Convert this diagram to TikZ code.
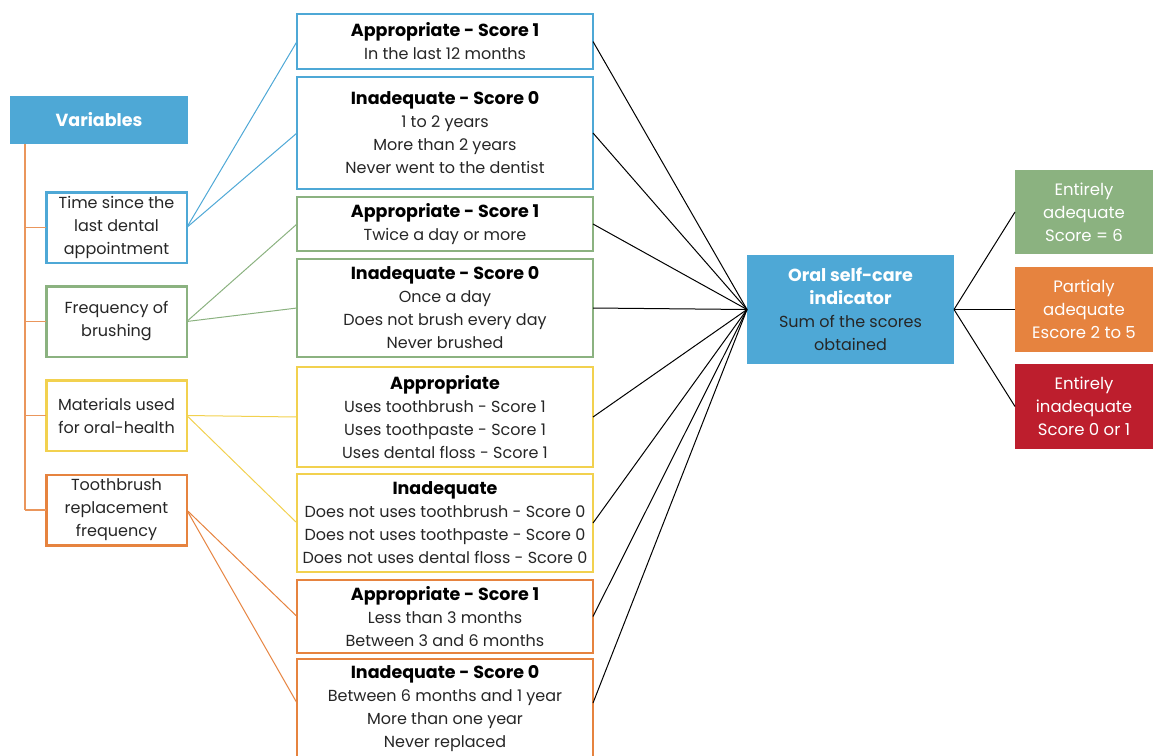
\documentclass[tikz,border=0pt]{standalone}
\usepackage{fontspec}
\setmainfont{Poppins}
\definecolor{cblue}{HTML}{4EA8D6}
\definecolor{cgreen}{HTML}{8BB280}
\definecolor{cyellow}{HTML}{F2D14F}
\definecolor{corange}{HTML}{E6833F}
\definecolor{cred}{HTML}{BD1E2D}
\definecolor{ctext}{HTML}{262626}
\newcommand\bhead[1]{{\fontsize{17.5}{23}\selectfont\bfseries #1}}
\begin{document}
\begin{tikzpicture}[x=1pt,y=-1pt,
  txt/.style={font=\fontsize{16}{23}\selectfont, text=ctext, align=center, inner sep=0pt, outer sep=0pt},
  midbox/.style={txt, draw=#1, line width=2.5pt, fill=white, minimum width=296pt},
  varbox/.style={txt, draw=#1, line width=2.5pt, fill=white, minimum width=140.5pt, minimum height=70.5pt},
  fillbox/.style={txt, fill=#1, text=white},
  lconn/.style={draw=#1, line width=1pt},
  rconn/.style={draw=black, line width=1pt}
]
\useasboundingbox (0,0) rectangle (1153,755);

% Variables column
\node[fillbox=cblue, minimum width=178pt, minimum height=48pt] (vars) at (99,120) {\bhead{Variables}};
\node[varbox=cblue] (time) at (116.5,227.5) {Time since the\\last dental\\appointment};
\node[varbox=cgreen] (freq) at (116.5,321.5) {Frequency of\\brushing};
\node[varbox=cyellow] (mat) at (116.5,415.5) {Materials used\\for oral-health};
\node[varbox=corange] (tb) at (116.5,510) {Toothbrush\\replacement\\frequency};

\coordinate (treetop) at (25,144);
\coordinate (treebot) at (25,510);
\draw[corange!85, line width=1.2pt] (treetop) -- (treebot);
\foreach \n in {time,freq,mat,tb} \draw[corange!85, line width=1.2pt] (treetop |- \n.west) -- (\n.west);

% Middle column
\node[midbox=cblue, minimum height=55pt] (b1) at (445,41.5) {\textcolor{black}{\bhead{Appropriate - Score 1}}\\In the last 12 months};
\node[midbox=cblue, minimum height=112pt] (b2) at (445,133) {\textcolor{black}{\bhead{Inadequate - Score 0}}\\1 to 2 years\\More than 2 years\\Never went to the dentist};
\node[midbox=cgreen, minimum height=54pt] (b3) at (445,224) {\textcolor{black}{\bhead{Appropriate - Score 1}}\\Twice a day or more};
\node[midbox=cgreen, minimum height=98pt] (b4) at (445,308) {\textcolor{black}{\bhead{Inadequate - Score 0}}\\Once a day\\Does not brush every day\\Never brushed};
\node[midbox=cyellow, minimum height=100pt] (b5) at (445,417) {\textcolor{black}{\bhead{Appropriate}}\\Uses toothbrush - Score 1\\Uses toothpaste - Score 1\\Uses dental floss - Score 1};
\node[midbox=cyellow, minimum height=98pt] (b6) at (445,523) {\textcolor{black}{\bhead{Inadequate}}\\Does not uses toothbrush - Score 0\\Does not uses toothpaste - Score 0\\Does not uses dental floss - Score 0};
\node[midbox=corange, minimum height=73pt] (b7) at (445,616.5) {\textcolor{black}{\bhead{Appropriate - Score 1}}\\Less than 3 months\\Between 3 and 6 months};
\node[midbox=corange, minimum height=110pt, anchor=north] (b8) at (445,659) {};
\node[txt] (b8t) at (445,709) {\textcolor{black}{\bhead{Inadequate - Score 0}}\\Between 6 months and 1 year\\More than one year\\Never replaced};
\coordinate (b8l) at ([yshift=-44pt]b8.north west);
\coordinate (b8r) at ([yshift=-44pt]b8.north east);

% left connectors
\draw[lconn=cblue] (time.east) -- (b1.west);
\draw[lconn=cblue] (time.east) -- (b2.west);
\draw[lconn=cgreen] (freq.east) -- (b3.west);
\draw[lconn=cgreen] (freq.east) -- (b4.west);
\draw[lconn=cyellow] (mat.east) -- (b5.west);
\draw[lconn=cyellow] (mat.east) -- (b6.west);
\draw[lconn=corange] (tb.east) -- (b7.west);
\draw[lconn=corange] (tb.east) -- (b8l);

% indicator
\node[fillbox=cblue, minimum width=207pt, minimum height=109pt] (ind) at (850.5,309.5) {\bhead{Oral self-care}\\\bhead{indicator}\\\textcolor{ctext}{Sum of the scores}\\\textcolor{ctext}{obtained}};
\foreach \n in {b1,b2,b3,b4,b5,b6,b7} \draw[rconn] (\n.east) -- (ind.west);
\draw[rconn] (b8r) -- (ind.west);

% results
\node[fillbox=cgreen, minimum width=138pt, minimum height=84pt, font=\fontsize{16.5}{23}\selectfont] (r1) at (1084,212) {Entirely\\adequate\\Score = 6};
\node[fillbox=corange, minimum width=138pt, minimum height=85pt, font=\fontsize{16.5}{23}\selectfont] (r2) at (1084,309.5) {Partialy\\adequate\\Escore 2 to 5};
\node[fillbox=cred, minimum width=138pt, minimum height=85pt, font=\fontsize{16.5}{23}\selectfont] (r3) at (1084,406.5) {Entirely\\inadequate\\Score 0 or 1};
\draw[rconn] (ind.east) -- (r1.west);
\draw[rconn] (ind.east) -- (r2.west);
\draw[rconn] (ind.east) -- (r3.west);
\end{tikzpicture}
\end{document}
